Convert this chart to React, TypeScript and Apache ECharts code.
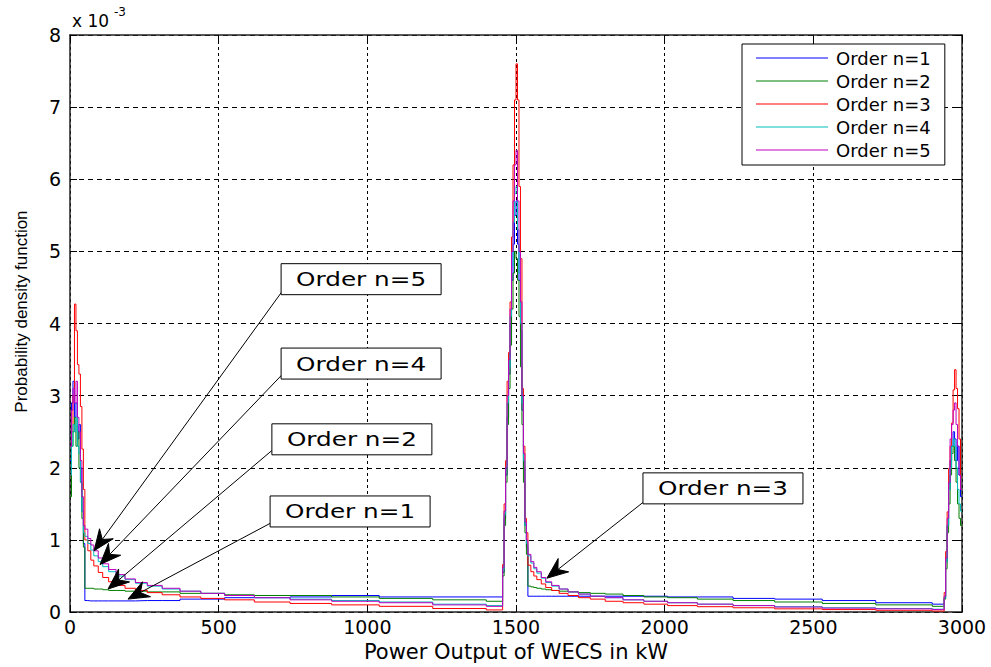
import React, { useEffect, useRef } from "react";
import * as echarts from "echarts";

// Bin positions (kW) of the five segments of each density curve
const X_LEFT_PEAK = [0, 5, 10, 15, 20, 25, 30, 35, 40, 45];
const X_LEFT_TAIL = [50, 60, 70, 80, 95, 110, 130, 155, 185, 220, 260, 310, 370, 440, 520, 620, 740, 880, 1040, 1220, 1400];
const X_MID_PEAK = [1455, 1460, 1465, 1470, 1475, 1480, 1485, 1490, 1495, 1500, 1505, 1510, 1515, 1520, 1525, 1530, 1535];
const X_MID_TAIL = [1540, 1550, 1560, 1570, 1585, 1600, 1620, 1645, 1675, 1710, 1750, 1800, 1860, 1930, 2010, 2110, 2230, 2370, 2530, 2710, 2900];
const X_RIGHT_PEAK = [2940, 2945, 2950, 2955, 2960, 2965, 2970, 2975, 2980, 2985, 2990, 2995];
const X_END = 3000;

// Density values in units of 1e-3
const N1_LEFT_PEAK = [2.1, 2.9, 3.2, 2.7, 2.9, 2.4, 2.6, 2.0, 1.4, 0.95];
const N1_LEFT_TAIL = [0.16, 0.155, 0.155, 0.155, 0.155, 0.155, 0.155, 0.155, 0.155, 0.16, 0.16, 0.16, 0.18, 0.18, 0.2, 0.2, 0.21, 0.23, 0.21, 0.21, 0.21];
const N1_MID_PEAK = [0.55, 1.3, 1.9, 2.7, 3.3, 4.0, 4.6, 5.1, 5.5, 5.7, 5.1, 4.6, 3.9, 2.8, 2.0, 1.2, 0.9];
const N1_MID_TAIL = [0.22, 0.22, 0.22, 0.22, 0.22, 0.22, 0.22, 0.22, 0.22, 0.22, 0.22, 0.22, 0.22, 0.22, 0.21, 0.21, 0.19, 0.18, 0.16, 0.13, 0.11];
const N1_RIGHT_PEAK = [0.2, 0.7, 1.2, 1.7, 2.1, 2.3, 2.5, 2.4, 2.1, 2.3, 1.9, 1.6];

const N2_LEFT_PEAK = [1.6, 2.3, 2.5, 2.7, 2.3, 2.5, 2.0, 1.8, 1.3, 0.9];
const N2_LEFT_TAIL = [0.33, 0.33, 0.33, 0.32, 0.32, 0.31, 0.3, 0.3, 0.29, 0.29, 0.28, 0.28, 0.26, 0.26, 0.24, 0.23, 0.23, 0.21, 0.19, 0.17, 0.15];
const N2_MID_PEAK = [0.5, 1.2, 1.8, 2.6, 3.1, 3.7, 4.2, 4.7, 5.0, 4.9, 4.6, 4.1, 3.4, 2.6, 1.8, 1.1, 0.8];
const N2_MID_TAIL = [0.36, 0.35, 0.34, 0.33, 0.32, 0.31, 0.3, 0.29, 0.28, 0.27, 0.26, 0.25, 0.23, 0.21, 0.2, 0.18, 0.16, 0.14, 0.12, 0.1, 0.08];
const N2_RIGHT_PEAK = [0.18, 0.6, 1.1, 1.5, 1.9, 2.2, 2.3, 2.1, 1.8, 1.5, 1.3, 1.2];

const N3_LEFT_PEAK = [1.9, 2.5, 3.0, 4.27, 3.9, 3.43, 3.3, 2.85, 2.26, 1.7];
const N3_LEFT_TAIL = [1.0, 0.85, 0.72, 0.64, 0.55, 0.48, 0.42, 0.37, 0.33, 0.3, 0.27, 0.24, 0.21, 0.19, 0.17, 0.14, 0.12, 0.1, 0.08, 0.05, 0.03];
const N3_MID_PEAK = [0.66, 1.5, 2.1, 3.2, 3.6, 4.3, 5.2, 6.2, 7.1, 7.6, 7.1, 5.9, 4.9, 3.1, 2.3, 1.3, 1.1];
const N3_MID_TAIL = [0.65, 0.56, 0.5, 0.45, 0.39, 0.34, 0.3, 0.26, 0.23, 0.2, 0.18, 0.15, 0.13, 0.11, 0.09, 0.075, 0.06, 0.045, 0.035, 0.025, 0.015];
const N3_RIGHT_PEAK = [0.27, 0.84, 1.39, 1.99, 2.3, 2.62, 3.08, 3.36, 3.1, 2.82, 2.4, 1.87];

const N4_LEFT_PEAK = [1.9, 2.3, 2.6, 2.5, 2.7, 2.3, 2.2, 1.8, 1.4, 1.1];
const N4_LEFT_TAIL = [1.05, 0.95, 0.86, 0.78, 0.7, 0.63, 0.56, 0.5, 0.45, 0.4, 0.36, 0.32, 0.29, 0.26, 0.23, 0.2, 0.18, 0.16, 0.14, 0.11, 0.09];
const N4_MID_PEAK = [0.6, 1.35, 2.0, 2.9, 3.4, 4.1, 4.8, 5.4, 5.8, 5.9, 5.3, 4.7, 4.0, 2.9, 2.1, 1.2, 0.95];
const N4_MID_TAIL = [0.78, 0.68, 0.6, 0.54, 0.47, 0.41, 0.36, 0.32, 0.28, 0.25, 0.22, 0.2, 0.17, 0.15, 0.13, 0.11, 0.09, 0.075, 0.06, 0.05, 0.04];
const N4_RIGHT_PEAK = [0.2, 0.7, 1.2, 1.7, 2.0, 2.3, 2.4, 2.3, 2.0, 1.7, 1.5, 1.4];

const N5_LEFT_PEAK = [2.3, 2.8, 3.1, 2.9, 3.2, 2.7, 2.5, 2.1, 1.6, 1.2];
const N5_LEFT_TAIL = [1.15, 1.02, 0.93, 0.85, 0.75, 0.67, 0.59, 0.52, 0.46, 0.41, 0.37, 0.33, 0.29, 0.26, 0.23, 0.2, 0.17, 0.15, 0.13, 0.1, 0.08];
const N5_MID_PEAK = [0.62, 1.4, 2.0, 3.0, 3.5, 4.2, 5.0, 5.7, 6.2, 6.4, 5.7, 5.0, 4.3, 3.0, 2.2, 1.25, 1.0];
const N5_MID_TAIL = [0.8, 0.7, 0.62, 0.56, 0.48, 0.42, 0.37, 0.32, 0.28, 0.25, 0.22, 0.2, 0.17, 0.15, 0.13, 0.11, 0.09, 0.07, 0.055, 0.045, 0.035];
const N5_RIGHT_PEAK = [0.22, 0.75, 1.3, 1.8, 2.4, 2.6, 2.8, 2.9, 2.6, 2.3, 1.9, 1.7];

const SERIES_NAMES = ["Order n=1", "Order n=2", "Order n=3", "Order n=4", "Order n=5"];
const SERIES_COLORS = ["#0000FF", "#008000", "#FF0000", "#00BFBF", "#BF00BF"];
const SERIES_SEGMENTS = [
  [N1_LEFT_PEAK, N1_LEFT_TAIL, N1_MID_PEAK, N1_MID_TAIL, N1_RIGHT_PEAK],
  [N2_LEFT_PEAK, N2_LEFT_TAIL, N2_MID_PEAK, N2_MID_TAIL, N2_RIGHT_PEAK],
  [N3_LEFT_PEAK, N3_LEFT_TAIL, N3_MID_PEAK, N3_MID_TAIL, N3_RIGHT_PEAK],
  [N4_LEFT_PEAK, N4_LEFT_TAIL, N4_MID_PEAK, N4_MID_TAIL, N4_RIGHT_PEAK],
  [N5_LEFT_PEAK, N5_LEFT_TAIL, N5_MID_PEAK, N5_MID_TAIL, N5_RIGHT_PEAK],
];

const X_TICKS = [0, 500, 1000, 1500, 2000, 2500, 3000];
const Y_TICKS = [0, 1, 2, 3, 4, 5, 6, 7, 8];

// Text-box callouts: box top-left, arrow tail and arrow tip, all in data coordinates
const CALLOUTS = [
  { label: "Order n=5", box: [710, 4.83], from: [716, 4.46], to: [81, 0.85] },
  { label: "Order n=4", box: [710, 3.66], from: [713, 3.29], to: [101, 0.66] },
  { label: "Order n=2", box: [679, 2.61], from: [679, 2.24], to: [128, 0.32] },
  { label: "Order n=1", box: [673, 1.61], from: [673, 1.23], to: [195, 0.18] },
  { label: "Order n=3", box: [1927, 1.93], from: [1927, 1.52], to: [1604, 0.47] },
];

const SEGMENT_X = [X_LEFT_PEAK, X_LEFT_TAIL, X_MID_PEAK, X_MID_TAIL, X_RIGHT_PEAK];

function buildPoints(segments: number[][]): number[][] {
  const pts: number[][] = [];
  segments.forEach((ys, k) => {
    ys.forEach((y, i) => pts.push([SEGMENT_X[k][i], y]));
  });
  pts.push([X_END, pts[pts.length - 1][1]]);
  return pts;
}

const SANS = "DejaVu Sans";

function arrowGraphics(tail: number[], tip: number[]) {
  const dx = tip[0] - tail[0];
  const dy = tip[1] - tail[1];
  const L = Math.hypot(dx, dy);
  const ux = dx / L;
  const uy = dy / L;
  const nx = -uy;
  const ny = ux;
  const len = 21;
  const half = 8.5;
  const notch = 7;
  const bx = tip[0] - ux * len;
  const by = tip[1] - uy * len;
  const mx = tip[0] - ux * (len - notch);
  const my = tip[1] - uy * (len - notch);
  return [
    {
      type: "line",
      z: 20,
      shape: { x1: tail[0], y1: tail[1], x2: mx, y2: my },
      style: { stroke: "#000", lineWidth: 1 },
    },
    {
      type: "polygon",
      z: 20,
      shape: {
        points: [
          [tip[0], tip[1]],
          [bx + nx * half, by + ny * half],
          [mx, my],
          [bx - nx * half, by - ny * half],
        ],
      },
      style: { fill: "#000", stroke: "#000", lineWidth: 1 },
    },
  ];
}

export default function App() {
  const ref = useRef<HTMLDivElement>(null);

  useEffect(() => {
    if (!ref.current) return;
    const chart = echarts.init(ref.current, undefined, { renderer: "svg" });

    const axisCommon = {
      type: "value",
      axisLine: { show: true, onZero: false, lineStyle: { color: "#222", width: 1.5 } },
      axisTick: { show: true, inside: true, length: 7, lineStyle: { color: "#000" } },
    };

    const series: any[] = SERIES_SEGMENTS.map((segs, i) => ({
      name: SERIES_NAMES[i],
      type: "line",
      step: "end",
      data: buildPoints(segs),
      showSymbol: false,
      symbol: "none",
      color: SERIES_COLORS[i],
      lineStyle: { width: 1, color: SERIES_COLORS[i] },
      xAxisIndex: 0,
      yAxisIndex: 0,
      z: 2 + i,
    }));

    chart.setOption({
      animation: false,
      backgroundColor: "#fff",
      textStyle: { fontFamily: SANS },
      grid: { left: 70, top: 35, width: 892, height: 583, containLabel: false },
      legend: {
        data: SERIES_NAMES,
        orient: "vertical",
        left: 742,
        top: 44,
        backgroundColor: "#fff",
        borderColor: "#000",
        borderWidth: 1,
        padding: [5, 14, 6, 14],
        itemWidth: 72,
        itemHeight: 1,
        itemGap: 5,
        icon: "rect",
        selectedMode: false,
        textStyle: { color: "#000", fontSize: 18, fontFamily: SANS, lineHeight: 18, padding: [0, 0, 0, 3] },
      },
      xAxis: [
        {
          ...axisCommon,
          position: "bottom",
          min: X_TICKS[0],
          max: X_TICKS[X_TICKS.length - 1],
          interval: X_TICKS[1] - X_TICKS[0],
          axisLabel: {
            color: "#000",
            fontSize: 19,
            fontFamily: SANS,
            margin: 5,
            formatter: (v: number) => String(v),
          },
          splitLine: { show: true, lineStyle: { color: "#000", width: 1, type: [3, 3] } },
          name: "Power Output of WECS in kW",
          nameLocation: "middle",
          nameGap: 26,
          nameTextStyle: { color: "#000", fontSize: 21, fontFamily: SANS },
        },
        {
          ...axisCommon,
          position: "top",
          min: X_TICKS[0],
          max: X_TICKS[X_TICKS.length - 1],
          interval: X_TICKS[1] - X_TICKS[0],
          axisLabel: { show: false },
          splitLine: { show: false },
        },
      ],
      yAxis: [
        {
          ...axisCommon,
          position: "left",
          min: Y_TICKS[0],
          max: Y_TICKS[Y_TICKS.length - 1],
          interval: Y_TICKS[1] - Y_TICKS[0],
          axisLabel: {
            color: "#000",
            fontSize: 19,
            fontFamily: SANS,
            margin: 9,
            formatter: (v: number) => String(v),
          },
          splitLine: { show: true, lineStyle: { color: "#000", width: 1, type: [5, 4] } },
          name: "Probability density function",
          nameLocation: "middle",
          nameGap: 40,
          nameTextStyle: {
            color: "#000",
            fontSize: 17,
            fontFamily: "Liberation Sans",
            padding: [0, 0, 0, 24],
          },
        },
        {
          ...axisCommon,
          position: "right",
          min: Y_TICKS[0],
          max: Y_TICKS[Y_TICKS.length - 1],
          interval: Y_TICKS[1] - Y_TICKS[0],
          axisLabel: { show: false },
          splitLine: { show: false },
        },
      ],
      series,
    });

    const toPx = (p: number[]) =>
      chart.convertToPixel({ xAxisIndex: 0, yAxisIndex: 0 }, p) as number[];

    const graphics: any[] = [
      {
        type: "text",
        left: 72,
        top: 12,
        z: 30,
        style: { text: "x 10", fontSize: 17, fontFamily: SANS, fill: "#000" },
      },
      {
        type: "text",
        left: 114,
        top: 6,
        z: 30,
        style: { text: "-3", fontSize: 12, fontFamily: SANS, fill: "#000" },
      },
    ];

    CALLOUTS.forEach((c) => {
      const tail = toPx(c.from);
      const tip = toPx(c.to);
      graphics.push(...arrowGraphics(tail, tip));
      const b = toPx(c.box);
      graphics.push({
        type: "rect",
        z: 25,
        shape: { x: b[0], y: b[1], width: 160, height: 31 },
        style: { fill: "#fff", stroke: "#000", lineWidth: 1 },
      });
      graphics.push({
        type: "text",
        z: 26,
        x: b[0] + 80,
        y: b[1] + 16,
        scaleX: 1.3,
        style: {
          text: c.label,
          fontSize: 19,
          fontFamily: SANS,
          fill: "#000",
          align: "center",
          verticalAlign: "middle",
        },
      });
    });

    chart.setOption({ graphic: graphics });

    return () => chart.dispose();
  }, []);

  return (
    <div
      ref={ref}
      style={{ position: "absolute", left: 0, top: 0, width: 991, height: 667 }}
    />
  );
}
